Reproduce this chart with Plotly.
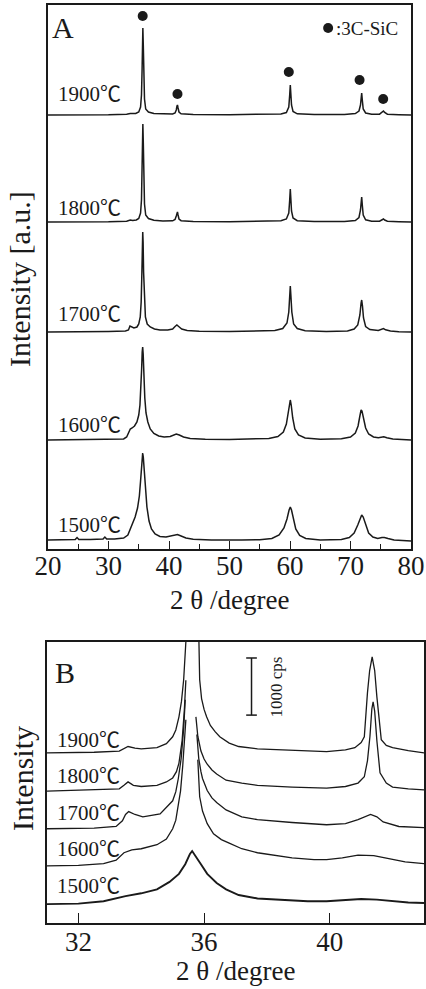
import plotly.graph_objects as go

# ---------------- Panel A data (2θ in degree, intensity in a.u., stacked) ----------------
temps = ["1500℃", "1600℃", "1700℃", "1800℃", "1900℃"]
a_offsets = [8, 109, 217, 327, 434]

a1500 = [(20, 1), (22, 1), (24.5, 1.5), (24.8, 3.5), (25.1, 1.5), (27, 1.5), (29.1, 2), (29.4, 4), (29.7, 2),
         (31, 2), (32.5, 3), (33.2, 6), (33.6, 12), (34.0, 18), (34.4, 24), (34.8, 33), (35.1, 45), (35.3, 60),
         (35.45, 74), (35.58, 85), (35.65, 88), (35.75, 84), (35.9, 70), (36.1, 50), (36.35, 34), (36.7, 20),
         (37.1, 12), (37.7, 7), (38.5, 4.5), (39.5, 4), (40.3, 5), (40.9, 6.5), (41.4, 6.5), (42.0, 5), (42.8, 3),
         (44, 1.8), (47, 1), (52, 1), (55, 1.2), (57, 2.5), (58.2, 6), (59.0, 13), (59.5, 22), (59.85, 31),
         (60.05, 34), (60.25, 31), (60.55, 22), (60.95, 12), (61.6, 5.5), (62.6, 2.5), (65, 1), (68.5, 1.5),
         (69.8, 3.5), (70.6, 8), (71.2, 16), (71.6, 23), (71.85, 26), (72.1, 24), (72.5, 16), (73.0, 8),
         (73.7, 4), (74.5, 2.5), (75.2, 3.5), (75.6, 3.5), (76.2, 2.5), (77.2, 1), (80, 0)]

a1600 = [(20, 0), (25, 0.3), (30, 0.5), (32.5, 1), (33.0, 3), (33.3, 8), (33.6, 11), (33.9, 12), (34.3, 14),
         (34.7, 18), (35.0, 25), (35.2, 35), (35.35, 50), (35.47, 70), (35.57, 88), (35.65, 93), (35.73, 86),
         (35.85, 65), (36.0, 42), (36.2, 27), (36.5, 18), (36.9, 11), (37.5, 6.5), (38.3, 4), (39.2, 3),
         (40.2, 3.5), (40.8, 5), (41.2, 6), (41.7, 5), (42.4, 3), (43.5, 1.5), (46, 0.8), (50, 0.6), (54, 0.8),
         (56.5, 1.5), (58, 3.5), (58.9, 8), (59.4, 16), (59.75, 28), (59.95, 38), (60.05, 40), (60.2, 35),
         (60.45, 22), (60.8, 11), (61.4, 5), (62.5, 2), (65, 0.8), (68.5, 1.2), (70, 3), (70.8, 7), (71.25, 14),
         (71.55, 24), (71.75, 30), (71.9, 29), (72.15, 22), (72.5, 12), (73.0, 6), (73.8, 3), (74.6, 2.2),
         (75.2, 3), (75.5, 3.2), (76, 2.2), (77, 1), (78.5, 0.4), (80, 0)]

a1700 = [(20, 0), (25, 0), (30, 0.5), (32.8, 1), (33.3, 2), (33.55, 6), (33.8, 5), (34.2, 4), (34.7, 5),
         (35.0, 8), (35.25, 15), (35.4, 30), (35.52, 60), (35.6, 88), (35.66, 100), (35.72, 90), (35.8, 60),
         (35.92, 30), (36.1, 15), (36.4, 8), (36.9, 5), (37.6, 3), (38.5, 2), (39.8, 2), (40.6, 3), (41.0, 5.5),
         (41.3, 7), (41.6, 5.5), (42.1, 3), (43, 1.5), (45, 0.8), (50, 0.5), (55, 0.7), (57.5, 1.5), (58.8, 3.5),
         (59.5, 9), (59.8, 20), (59.95, 36), (60.05, 46), (60.15, 36), (60.3, 20), (60.6, 8), (61.2, 3.5),
         (62.5, 1.2), (66, 0.6), (69.5, 1), (70.6, 3), (71.2, 7), (71.55, 17), (71.75, 29), (71.85, 32),
         (71.98, 26), (72.15, 14), (72.5, 5.5), (73.2, 2.5), (74.6, 1.5), (75.1, 2.5), (75.45, 3.5), (75.8, 2.2),
         (76.6, 1), (78, 0.3), (80, 0)]

a1800 = [(20, 0), (25, 0), (30, 0.3), (33.0, 0.8), (33.6, 2), (34.0, 1.5), (34.6, 2), (35.0, 3.5), (35.3, 9),
         (35.45, 22), (35.55, 50), (35.62, 85), (35.68, 98), (35.75, 80), (35.82, 45), (35.95, 18), (36.15, 7),
         (36.6, 3.5), (37.5, 1.7), (39, 1), (40.6, 1.2), (41.0, 2.5), (41.2, 6), (41.32, 9), (41.4, 10),
         (41.5, 7), (41.65, 3), (42.0, 1.3), (44, 0.6), (50, 0.3), (56, 0.5), (58.5, 1.2), (59.4, 3), (59.8, 9),
         (59.95, 22), (60.05, 33), (60.15, 22), (60.25, 11), (60.5, 4), (61.2, 1.3), (64, 0.4), (69, 0.5),
         (70.8, 1.5), (71.4, 4.5), (71.65, 12), (71.78, 21), (71.85, 25), (71.95, 17), (72.1, 7), (72.5, 2.2),
         (73.5, 0.8), (74.8, 0.8), (75.25, 2), (75.45, 3), (75.65, 2), (76.1, 0.8), (78, 0.3), (80, 0)]

a1900 = [(20, 0), (25, 0), (30, 0.3), (33.0, 0.8), (33.6, 1.5), (34.5, 1.5), (35.0, 3), (35.3, 8), (35.45, 20),
         (35.55, 45), (35.62, 75), (35.68, 87), (35.75, 70), (35.82, 40), (35.95, 16), (36.15, 6), (36.6, 3),
         (37.5, 1.5), (39, 1), (40.6, 1), (41.0, 2), (41.2, 5), (41.32, 9), (41.4, 10), (41.5, 7), (41.65, 3),
         (42.0, 1.2), (44, 0.6), (50, 0.3), (56, 0.5), (58.5, 1), (59.4, 2.5), (59.8, 8), (59.95, 20),
         (60.05, 30), (60.15, 20), (60.25, 10), (60.5, 3.5), (61.2, 1.2), (64, 0.4), (69, 0.5), (70.8, 1.5),
         (71.4, 4), (71.65, 10), (71.78, 18), (71.85, 22), (71.95, 15), (72.1, 6), (72.5, 2), (73.5, 0.8),
         (74.8, 0.8), (75.25, 2.5), (75.45, 4), (75.65, 2.5), (76.1, 0.8), (78, 0.3), (80, 0)]

a_curves = [a1500, a1600, a1700, a1800, a1900]
a_label_y = [24, 124, 235, 341, 455]

# 3C-SiC peak markers
sic_x = [35.65, 41.4, 59.8, 71.5, 75.4]
sic_y = [533, 455, 477, 469, 450]

# ---------------- Panel B data (2θ in degree, intensity in cps, stacked) ----------------
b_offsets = [330, 1000, 1650, 2310, 2980]

b1500 = [(31.0, 0), (32.0, 10), (32.8, 50), (33.5, 140), (34.0, 190), (34.5, 260), (34.9, 390), (35.2, 530),
         (35.4, 700), (35.55, 880), (35.62, 930), (35.7, 870), (35.9, 700), (36.1, 530), (36.4, 370),
         (36.7, 260), (37.1, 160), (37.7, 100), (38.5, 70), (39.3, 50), (39.9, 50), (40.5, 70), (41.0, 90),
         (41.5, 80), (42.0, 50), (42.5, 30), (43.0, 20)]

b1600 = [(31.0, 0), (32.0, 10), (32.8, 40), (33.2, 100), (33.45, 230), (33.7, 280), (34.0, 300), (34.5, 370),
         (34.8, 470), (35.0, 650), (35.1, 800), (35.18, 1040), (35.25, 1310), (35.32, 1750), (35.38, 2280),
         (35.42, 2560),
         (None, None),
         (35.80, 1860), (35.86, 1210), (35.95, 960), (36.1, 740), (36.3, 560), (36.55, 460), (36.8, 400),
         (37.2, 300), (37.7, 230), (38.3, 180), (38.8, 140), (39.5, 110), (39.9, 110), (40.4, 140), (40.9, 190),
         (41.4, 180), (41.9, 120), (42.4, 70), (43.0, 40)]

b1700 = [(31.0, 0), (32.5, 10), (33.2, 40), (33.4, 140), (33.5, 250), (33.6, 300), (33.8, 250), (34.05, 210),
         (34.6, 260), (35.0, 490), (35.1, 650), (35.18, 880), (35.27, 1230), (35.35, 1750), (35.4, 2260),
         (None, None),
         (35.77, 1650), (35.83, 1230), (35.9, 1000), (35.95, 880), (36.1, 670), (36.25, 540), (36.4, 460),
         (36.7, 330), (37.2, 210), (37.7, 160), (38.8, 110), (39.9, 70), (40.5, 90), (40.9, 160), (41.3, 250),
         (41.5, 210), (41.7, 120), (42.2, 40), (43.0, 20)]

b1800 = [(31.0, 0), (32.5, 20), (33.3, 40), (33.45, 100), (33.58, 160), (33.75, 100), (34.0, 80), (34.5, 100),
         (34.8, 160), (35.0, 230), (35.12, 340), (35.2, 490), (35.3, 880), (35.37, 1400), (35.42, 1940),
         (None, None),
         (35.74, 1300), (35.8, 960), (35.9, 700), (36.0, 560), (36.1, 470), (36.25, 370), (36.4, 300),
         (36.7, 190), (37.2, 140), (37.7, 100), (38.8, 70), (39.9, 50), (40.5, 80), (40.9, 140), (41.1, 250),
         (41.2, 530), (41.28, 960), (41.34, 1440), (41.38, 1560), (41.43, 1400), (41.5, 880), (41.6, 320),
         (41.8, 140), (42.0, 70), (42.5, 40), (43.0, 20)]

b1900 = [(31.0, 0), (32.5, 10), (33.3, 30), (33.45, 70), (33.58, 110), (33.8, 80), (34.0, 70), (34.5, 90),
         (34.8, 160), (35.0, 280), (35.1, 400), (35.2, 630), (35.28, 900), (35.35, 1280), (35.42, 1940),
         (35.47, 3500), (35.6, 15050), (35.78, 3500), (35.83, 1940), (35.86, 1280), (35.92, 950), (36.0, 760),
         (36.08, 630), (36.2, 480), (36.35, 370), (36.5, 280), (36.8, 170), (37.1, 110), (37.7, 70), (38.8, 40),
         (39.9, 20), (40.5, 50), (40.8, 90), (41.0, 180), (41.1, 280), (41.2, 1050), (41.27, 1440),
         (41.35, 1680), (41.43, 1440), (41.5, 980), (41.64, 230), (41.8, 130), (42.0, 90), (42.5, 40),
         (43.0, 0)]

b_curves = [b1500, b1600, b1700, b1800, b1900]
b_label_y = [650, 1295, 1925, 2570, 3200]

# scale bar (cps)
bar_x = 37.51
bar_y = [3640, 4640]

# ---------------- Figure ----------------
W, H = 426, 989
SERIF = "Liberation Serif, Times New Roman, Noto Sans CJK SC, serif"
INK = "#1a1a1a"

fig = go.Figure()


def stacked(points, off):
    xs = [p[0] for p in points]
    ys = [None if p[1] is None else p[1] + off for p in points]
    return xs, ys


for pts, off in zip(a_curves, a_offsets):
    xs, ys = stacked(pts, off)
    fig.add_trace(go.Scatter(x=xs, y=ys, mode="lines", line=dict(color=INK, width=1.5),
                             xaxis="x", yaxis="y", showlegend=False, hoverinfo="skip"))

fig.add_trace(go.Scatter(x=sic_x, y=sic_y, mode="markers", marker=dict(color=INK, size=10),
                         xaxis="x", yaxis="y", showlegend=False, hoverinfo="skip"))
fig.add_trace(go.Scatter(x=[66.3], y=[521], mode="markers", marker=dict(color=INK, size=10),
                         xaxis="x", yaxis="y", showlegend=False, hoverinfo="skip"))

for i, (pts, off) in enumerate(zip(b_curves, b_offsets)):
    xs, ys = stacked(pts, off)
    fig.add_trace(go.Scatter(x=xs, y=ys, mode="lines", connectgaps=False,
                             line=dict(color=INK, width=1.9 if i == 0 else 1.3),
                             xaxis="x2", yaxis="y2", showlegend=False, hoverinfo="skip"))

# scale bar
fig.add_trace(go.Scatter(x=[bar_x, bar_x], y=bar_y, mode="lines", line=dict(color=INK, width=1.5),
                         xaxis="x2", yaxis="y2", showlegend=False, hoverinfo="skip"))
for yy in bar_y:
    fig.add_trace(go.Scatter(x=[bar_x - 0.17, bar_x + 0.17], y=[yy, yy], mode="lines",
                             line=dict(color=INK, width=1.5),
                             xaxis="x2", yaxis="y2", showlegend=False, hoverinfo="skip"))

ann = []
for t, ly in zip(temps, a_label_y):
    ann.append(dict(x=21.4, y=ly, xref="x", yref="y", text=t, showarrow=False, xanchor="left",
                    yanchor="middle", font=dict(family=SERIF, size=21, color=INK)))
for t, ly in zip(temps, b_label_y):
    ann.append(dict(x=31.25, y=ly, xref="x2", yref="y2", text=t, showarrow=False, xanchor="left",
                    yanchor="middle", font=dict(family=SERIF, size=21, color=INK)))

ann.append(dict(x=67.2, y=521, xref="x", yref="y", text=":3C-SiC", showarrow=False, xanchor="left",
                yanchor="middle", font=dict(family=SERIF, size=19, color=INK)))
ann.append(dict(x=63 / W, y=1 - 28 / H, xref="paper", yref="paper", text="A", showarrow=False,
                xanchor="center", yanchor="middle", font=dict(family=SERIF, size=30, color=INK)))
ann.append(dict(x=65 / W, y=1 - 672 / H, xref="paper", yref="paper", text="B", showarrow=False,
                xanchor="center", yanchor="middle", font=dict(family=SERIF, size=30, color=INK)))
ann.append(dict(x=38.3, y=4130, xref="x2", yref="y2", text="1000 cps", showarrow=False, textangle=-90,
                xanchor="center", yanchor="middle", font=dict(family=SERIF, size=17, color=INK)))

# axis titles
ann.append(dict(x=229.5 / W, y=1 - 600 / H, xref="paper", yref="paper", text="2 θ /degree", showarrow=False,
                xanchor="center", yanchor="middle", font=dict(family=SERIF, size=27, color=INK)))
ann.append(dict(x=235.5 / W, y=1 - 971 / H, xref="paper", yref="paper", text="2 θ /degree", showarrow=False,
                xanchor="center", yanchor="middle", font=dict(family=SERIF, size=27, color=INK)))
ann.append(dict(x=20 / W, y=1 - 279 / H, xref="paper", yref="paper", text="Intensity [a.u.]", showarrow=False,
                textangle=-90, xanchor="center", yanchor="middle", font=dict(family=SERIF, size=30, color=INK)))
ann.append(dict(x=22 / W, y=1 - 779 / H, xref="paper", yref="paper", text="Intensity", showarrow=False,
                textangle=-90, xanchor="center", yanchor="middle", font=dict(family=SERIF, size=30, color=INK)))

axis_common = dict(showgrid=False, zeroline=False, showline=True, mirror=True, linecolor=INK, linewidth=1.5,
                   automargin=False)

fig.update_layout(
    width=W, height=H, autosize=False, margin=dict(l=0, r=0, t=0, b=0, pad=0),
    paper_bgcolor="white", plot_bgcolor="white", showlegend=False,
    xaxis=dict(domain=[48 / W, 411 / W], range=[20, 80], anchor="y", tickmode="linear", tick0=20, dtick=10,
               ticks="inside", ticklen=8, tickwidth=1.3, tickcolor=INK, ticklabelstandoff=-8,
               minor=dict(ticks="inside", ticklen=5, tickwidth=1.2, dtick=5, tick0=25, tickcolor=INK),
               tickfont=dict(family=SERIF, size=27, color=INK), **axis_common),
    yaxis=dict(domain=[1 - 549 / H, 1 - 5 / H], range=[0, 544], anchor="x", showticklabels=False, ticks="",
               **axis_common),
    xaxis2=dict(domain=[47 / W, 424 / W], range=[31, 43], anchor="y2", tickvals=[32, 36, 40],
                ticktext=["32", "36", "40"], ticks="inside", ticklen=10, tickwidth=1.3, tickcolor=INK,
                ticklabelstandoff=-6,
                tickfont=dict(family=SERIF, size=27, color=INK), **axis_common),
    yaxis2=dict(domain=[1 - 923 / H, 1 - 642 / H], range=[0, 4920], anchor="x2", showticklabels=False,
                ticks="", **axis_common),
    annotations=ann,
)

fig.write_html(
    "out.html",
    config={"responsive": False, "displayModeBar": False},
    post_script="document.body.style.margin='0';document.body.style.padding='0';"
                "document.documentElement.style.overflow='hidden';document.body.style.overflow='hidden';",
)
